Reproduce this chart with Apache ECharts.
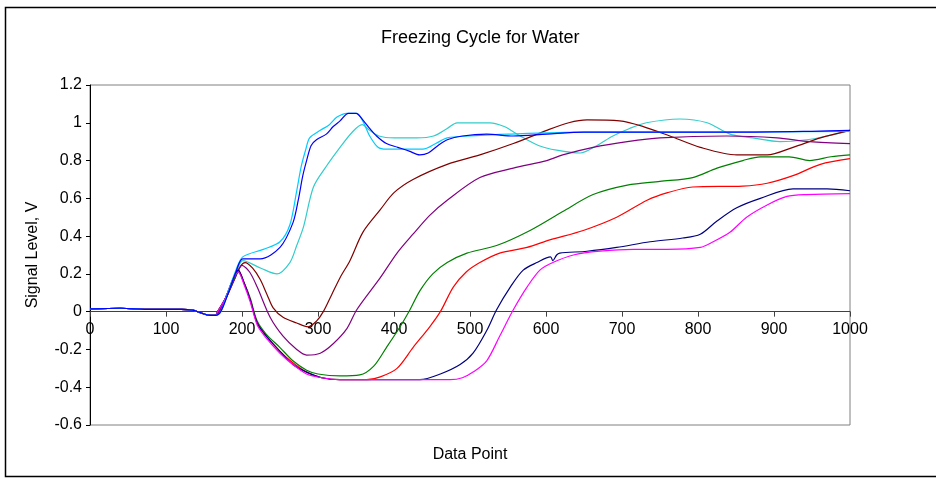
<!doctype html>
<html lang="en">
<head>
<meta charset="UTF-8">
<style>
  html, body { margin: 0; padding: 0; background: #fff; }
  #main { width: 936px; height: 478px; }
</style>
</head>
<body>
<div id="main"></div>
<script src="https://cdn.jsdelivr.net/npm/echarts@6/dist/echarts.min.js"></script>
<script>
// tick labels / axis ranges
var xTicks = [0, 100, 200, 300, 400, 500, 600, 700, 800, 900, 1000];
var yTicks = [-0.6, -0.4, -0.2, 0, 0.2, 0.4, 0.6, 0.8, 1, 1.2];

// shared flat start, before the signal kicks in
var baseline = [[0, 0.015], [40, 0.018], [80, 0.012], [120, 0.012], [135, 0.008], [145, -0.005], [155, -0.018], [165, -0.02]];

var blue = [[172, 0.0], [182, 0.1], [192, 0.21], [201, 0.28], [224, 0.28], [250, 0.34], [267, 0.47], [274, 0.59], [280, 0.72], [285, 0.80], [291, 0.88], [298, 0.91], [311, 0.94], [320, 0.98], [329, 1.01], [340, 1.05], [350, 1.05], [360, 1.01], [368, 0.97], [377, 0.93], [390, 0.89], [405, 0.87], [420, 0.85], [434, 0.83], [445, 0.84], [458, 0.88], [470, 0.91], [490, 0.93], [522, 0.94], [557, 0.93], [601, 0.94], [650, 0.95], [750, 0.95], [850, 0.95], [950, 0.955], [1000, 0.96]];
var skyBlue = [[172, 0.0], [182, 0.11], [192, 0.22], [201, 0.29], [228, 0.33], [250, 0.37], [263, 0.46], [272, 0.64], [278, 0.77], [284, 0.86], [289, 0.92], [303, 0.96], [315, 0.99], [325, 1.03], [338, 1.05], [351, 1.05], [360, 1.0], [368, 0.93], [379, 0.87], [390, 0.86], [410, 0.86], [438, 0.86], [455, 0.89], [470, 0.92], [500, 0.93], [550, 0.94], [650, 0.95], [800, 0.95], [1000, 0.955]];
var turquoise = [[172, 0.0], [182, 0.1], [192, 0.2], [201, 0.27], [225, 0.23], [246, 0.20], [263, 0.26], [272, 0.35], [281, 0.45], [294, 0.66], [311, 0.77], [329, 0.87], [345, 0.95], [358, 0.99], [368, 0.96], [380, 0.93], [400, 0.92], [430, 0.92], [452, 0.93], [470, 0.97], [483, 1.0], [526, 1.0], [545, 0.98], [566, 0.93], [590, 0.88], [614, 0.855], [645, 0.84], [667, 0.88], [688, 0.93], [710, 0.97], [732, 1.0], [776, 1.02], [812, 1.0], [842, 0.94], [872, 0.92], [908, 0.90], [943, 0.91], [970, 0.93], [1000, 0.96]];
var maroon = [[170, 0.0], [180, 0.08], [190, 0.17], [198, 0.24], [204, 0.26], [214, 0.23], [224, 0.17], [233, 0.09], [241, 0.02], [254, -0.03], [272, -0.06], [287, -0.08], [298, -0.05], [307, 0.0], [318, 0.09], [329, 0.18], [342, 0.27], [359, 0.42], [382, 0.54], [400, 0.63], [425, 0.70], [470, 0.78], [513, 0.83], [557, 0.89], [601, 0.96], [630, 1.0], [654, 1.015], [697, 1.01], [728, 0.98], [763, 0.93], [803, 0.87], [851, 0.83], [891, 0.83], [925, 0.87], [961, 0.92], [1000, 0.96]];
var purple = [[170, 0.0], [180, 0.08], [190, 0.17], [200, 0.245], [210, 0.21], [220, 0.13], [237, -0.03], [254, -0.13], [272, -0.20], [285, -0.23], [303, -0.22], [320, -0.17], [338, -0.09], [351, 0.01], [382, 0.18], [404, 0.31], [425, 0.41], [447, 0.51], [470, 0.59], [513, 0.71], [557, 0.76], [601, 0.80], [622, 0.83], [662, 0.87], [707, 0.90], [750, 0.92], [838, 0.93], [904, 0.92], [947, 0.90], [1000, 0.89]];
var green = [[168, 0.0], [178, 0.07], [188, 0.16], [195, 0.21], [203, 0.15], [211, 0.07], [220, -0.05], [232, -0.12], [250, -0.19], [267, -0.26], [285, -0.31], [300, -0.33], [329, -0.34], [355, -0.335], [373, -0.29], [390, -0.19], [408, -0.08], [421, 0.01], [434, 0.11], [451, 0.20], [470, 0.26], [496, 0.31], [535, 0.35], [579, 0.43], [622, 0.53], [662, 0.62], [707, 0.67], [750, 0.69], [793, 0.71], [825, 0.76], [859, 0.80], [882, 0.82], [920, 0.82], [947, 0.80], [975, 0.82], [1000, 0.83]];
var red = [[168, 0.0], [178, 0.07], [188, 0.17], [195, 0.22], [203, 0.15], [211, 0.06], [220, -0.06], [232, -0.13], [250, -0.21], [267, -0.27], [285, -0.32], [305, -0.35], [329, -0.36], [364, -0.36], [382, -0.345], [404, -0.30], [425, -0.19], [447, -0.08], [461, 0.0], [478, 0.13], [495, 0.21], [513, 0.26], [539, 0.31], [575, 0.34], [605, 0.38], [649, 0.43], [693, 0.50], [733, 0.59], [760, 0.63], [793, 0.66], [859, 0.665], [891, 0.68], [925, 0.72], [961, 0.78], [1000, 0.81]];
var navy = [[168, 0.0], [178, 0.07], [188, 0.17], [195, 0.22], [203, 0.15], [211, 0.06], [220, -0.06], [232, -0.13], [250, -0.21], [267, -0.28], [285, -0.32], [305, -0.35], [329, -0.36], [434, -0.36], [461, -0.33], [487, -0.28], [504, -0.22], [522, -0.10], [535, 0.01], [553, 0.13], [570, 0.22], [588, 0.26], [606, 0.29], [609, 0.27], [614, 0.30], [618, 0.31], [654, 0.32], [693, 0.34], [737, 0.37], [780, 0.39], [803, 0.41], [825, 0.48], [851, 0.55], [882, 0.60], [925, 0.65], [970, 0.65], [1000, 0.64]];
var magenta = [[168, 0.0], [178, 0.07], [188, 0.17], [195, 0.21], [203, 0.14], [211, 0.05], [220, -0.07], [232, -0.14], [250, -0.22], [267, -0.28], [285, -0.33], [305, -0.35], [329, -0.36], [474, -0.36], [490, -0.35], [504, -0.32], [522, -0.26], [539, -0.13], [557, 0.01], [575, 0.13], [592, 0.22], [609, 0.26], [636, 0.30], [671, 0.32], [715, 0.33], [759, 0.33], [803, 0.34], [820, 0.37], [842, 0.42], [864, 0.50], [891, 0.565], [917, 0.61], [943, 0.62], [1000, 0.625]];

var lines = [
  { data: turquoise, color: '#33CCCC' },
  { data: maroon, color: '#800000' },
  { data: purple, color: '#800080' },
  { data: green, color: '#008000' },
  { data: red, color: '#FF0000' },
  { data: navy, color: '#000080' },
  { data: magenta, color: '#FF00FF' },
  { data: skyBlue, color: '#00CCFF' },
  { data: blue, color: '#0000FF' }
];

var myChart = echarts.init(document.getElementById('main'));

var font = 'Liberation Sans, Arial, sans-serif';
var plotH = 478 - 85 - 53;
// move the x axis up to the y = 0 line (labels follow it)
var zeroOffset = -plotH * (0 - yTicks[0]) / (yTicks[yTicks.length - 1] - yTicks[0]);

option = {
  backgroundColor: '#fff',
  animation: false,
  graphic: [{
    type: 'rect',
    shape: { x: 5.5, y: 7.5, width: 960, height: 469 },
    style: { fill: 'none', stroke: '#000', lineWidth: 1.5 }
  }],
  title: {
    text: 'Freezing Cycle for Water',
    left: 376,
    top: 24,
    textStyle: { fontFamily: font, fontSize: 18, fontWeight: 'normal', color: '#000' }
  },
  grid: {
    left: 90, top: 85, right: 86, bottom: 53,
    outerBoundsMode: 'none',
    containLabel: false,
    show: true, borderColor: '#808080', borderWidth: 1
  },
  xAxis: {
    type: 'value',
    min: xTicks[0],
    max: xTicks[xTicks.length - 1],
    interval: 100,
    offset: zeroOffset,
    name: 'Data Point',
    nameLocation: 'middle',
    nameGap: 135,
    nameTextStyle: { fontFamily: font, fontSize: 16, color: '#000' },
    axisLine: { onZero: false, lineStyle: { color: '#404040', width: 1 } },
    axisTick: { show: true, length: 5, lineStyle: { color: '#404040' } },
    axisLabel: {
      fontFamily: font, fontSize: 16, color: '#000', margin: 10,
      formatter: function (v) { return String(v); }
    },
    splitLine: { show: false }
  },
  yAxis: {
    type: 'value',
    min: yTicks[0],
    max: yTicks[yTicks.length - 1],
    interval: 0.2,
    name: 'Signal Level, V',
    nameLocation: 'middle',
    nameRotate: 90,
    nameGap: 49,
    nameTextStyle: { fontFamily: font, fontSize: 16, color: '#000' },
    axisLine: { show: true, onZero: false, lineStyle: { color: '#000', width: 1 } },
    axisTick: { show: true, length: 4, lineStyle: { color: '#000' } },
    axisLabel: { fontFamily: font, fontSize: 16, color: '#000', margin: 8 },
    splitLine: { show: false }
  },
  series: lines.map(function (l) {
    return {
      type: 'line',
      data: baseline.concat(l.data),
      showSymbol: false,
      smooth: 0.3,
      lineStyle: { color: l.color, width: 1.2 },
      itemStyle: { color: l.color }
    };
  })
};
myChart.setOption(option);
</script>
</body>
</html>
